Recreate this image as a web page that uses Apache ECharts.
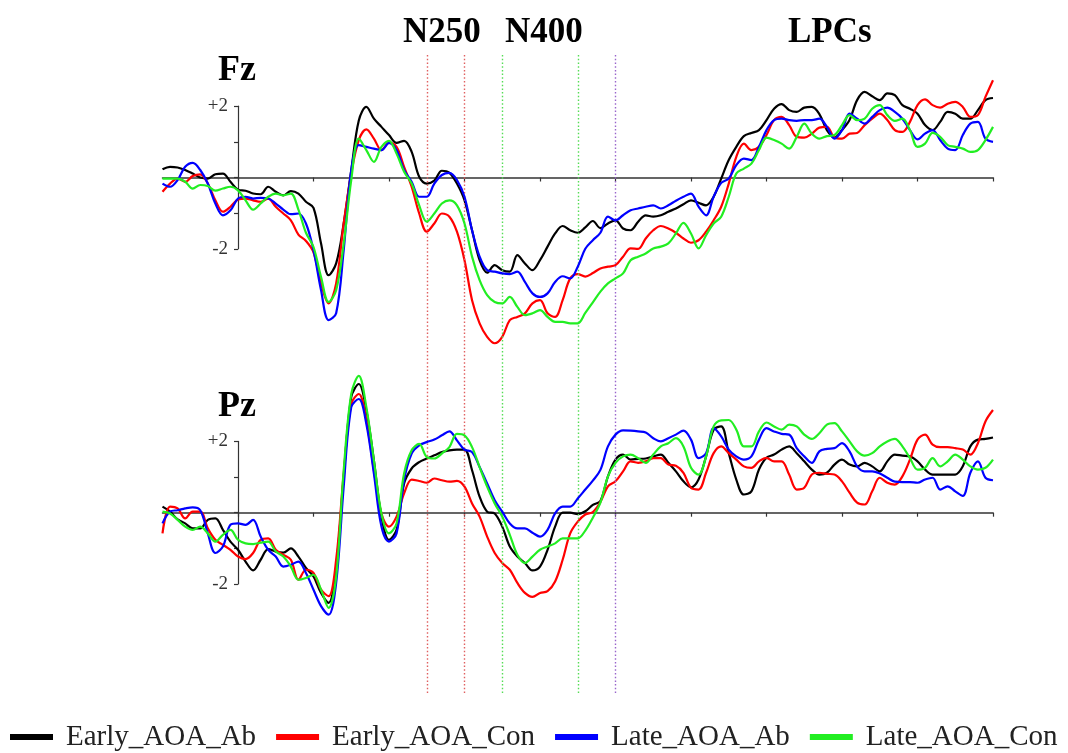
<!DOCTYPE html>
<html>
<head>
<meta charset="utf-8">
<script src="https://cdn.jsdelivr.net/npm/echarts@6/dist/echarts.min.js"></script>
<style>
html,body{margin:0;padding:0;background:#fff;}
#chart{width:1068px;height:753px;}
</style>
</head>
<body>
<div id="chart"></div>
<script>
// ---- data (µV), sampled every 10 ms from -100 ms to 1000 ms ----
const SERIES_NAMES = ['Early_AOA_Ab', 'Early_AOA_Con', 'Late_AOA_Ab', 'Late_AOA_Con'];
const COLORS = ['#000000', '#ff0000', '#0000ff', '#22ee22'];
const T_START = -100, T_END = 1000, T_STEP = 10;
const X_TICKS = [0, 100, 200, 300, 400, 500, 600, 700, 800, 900, 1000];
const WINDOWS = [250, 300, 350, 450, 500];
const WINDOW_COLORS = ['#e06060', '#e06060', '#55dd55', '#55dd55', '#9966cc'];
const HEADINGS = ['N250', 'N400', 'LPCs'];
const PANELS = ['Fz', 'Pz'];

const fzEarlyAb = [0.23,0.30,0.28,0.21,0.11,0.0,-0.03,0.09,0.11,-0.12,
 -0.34,-0.37,-0.45,-0.47,-0.26,-0.40,-0.50,-0.38,-0.45,-0.68,
 -0.85,-1.85,-2.74,-2.41,-1.29,0.2,1.6,1.98,1.65,1.42,
 1.19,0.97,1.03,0.72,0.02,-0.17,-0.09,0.19,0.13,-0.17,
 -0.64,-1.48,-2.32,-2.67,-2.46,-2.6,-2.64,-2.18,-2.41,-2.6,
 -2.32,-1.94,-1.57,-1.36,-1.48,-1.55,-1.4,-1.22,-1.42,-1.29,
 -1.2,-1.43,-1.48,-1.24,-1.06,-1.1,-1.06,-0.96,-0.87,-0.75,
 -0.64,-0.71,-0.78,-0.54,-0.03,0.49,0.86,1.16,1.25,1.33,
 1.61,1.93,2.06,1.89,1.84,1.96,1.98,1.78,1.33,1.12,
 1.33,1.61,2.17,2.4,2.28,2.17,2.36,2.31,2.03,1.93,
 1.79,1.47,1.33,1.56,1.84,1.79,1.65,1.65,1.89,2.17,
 2.23];
const fzEarlyCon = [-0.40,-0.17,-0.03,-0.12,0.04,0.09,-0.17,-0.64,-0.96,-0.82,
 -0.62,-0.59,-0.64,-0.68,-0.59,-0.82,-1.01,-1.2,-1.6,-1.78,
 -2.1,-2.97,-3.53,-2.97,-1.29,0.11,1.05,1.35,1.09,0.77,
 0.97,0.86,0.3,-0.26,-1.01,-1.52,-1.29,-1.01,-1.1,-1.52,
 -2.32,-3.44,-4.09,-4.47,-4.65,-4.47,-4.0,-3.91,-3.81,-3.53,
 -3.44,-3.81,-3.91,-3.44,-2.83,-2.71,-2.78,-2.68,-2.55,-2.5,
 -2.46,-2.22,-1.99,-2.0,-1.71,-1.48,-1.36,-1.43,-1.55,-1.71,
 -1.83,-1.76,-1.52,-1.2,-0.82,-0.17,0.58,0.95,0.77,0.86,
 1.19,1.61,1.70,1.47,1.14,1.12,1.23,1.40,1.42,1.12,
 1.09,1.23,1.25,1.47,1.65,1.79,1.61,1.33,1.28,1.56,
 2.03,2.19,2.03,1.96,2.07,2.12,1.98,1.70,1.75,2.26,
 2.73];
const fzLateAb = [-0.17,-0.26,-0.07,0.30,0.41,0.21,-0.17,-0.73,-1.06,-0.92,
 -0.59,-0.54,-0.59,-0.57,-0.59,-0.73,-0.90,-1.03,-1.01,-1.29,
 -2.04,-3.16,-4.0,-3.81,-2.04,0.21,0.91,0.86,0.81,0.77,
 0.97,0.77,0.21,-0.12,-0.54,-0.54,-0.17,0.07,0.13,-0.07,
 -0.54,-1.48,-2.22,-2.6,-2.64,-2.69,-2.71,-2.64,-2.93,-3.25,
 -3.35,-3.25,-2.93,-2.77,-2.83,-2.5,-2.0,-1.76,-1.55,-1.1,
 -1.2,-1.06,-0.92,-0.87,-0.82,-0.78,-0.87,-0.78,-0.65,-0.54,
 -0.45,-0.82,-1.06,-0.54,-0.15,-0.03,0.35,0.53,0.49,0.86,
 1.33,1.61,1.65,1.61,1.59,1.61,1.61,1.65,1.42,1.09,
 1.33,1.79,1.65,1.51,1.70,1.89,1.96,1.84,1.65,1.33,
 1.07,1.23,1.33,1.05,0.81,0.77,1.19,1.51,1.56,1.09,
 1.0];
const fzLateCon = [-0.03,-0.03,-0.03,-0.12,-0.31,-0.21,-0.24,-0.37,-0.31,-0.26,
 -0.36,-0.64,-0.90,-0.73,-0.54,-0.45,-0.50,-0.45,-0.9,-1.55,
 -1.95,-2.79,-3.49,-3.16,-1.85,-0.07,1.09,0.77,0.44,0.86,
 1.03,0.67,0.16,-0.17,-0.78,-1.24,-1.01,-0.73,-0.64,-0.78,
 -1.29,-2.22,-2.88,-3.30,-3.49,-3.53,-3.35,-3.63,-3.86,-3.81,
 -3.72,-3.91,-4.05,-4.05,-4.09,-4.09,-3.8,-3.5,-3.2,-2.97,
 -2.83,-2.69,-2.32,-2.22,-2.13,-1.99,-1.94,-1.85,-1.57,-1.27,
 -1.57,-1.99,-1.62,-1.29,-1.1,-0.54,0.11,0.25,0.39,0.77,
 1.12,1.05,0.95,0.81,1.14,1.51,1.23,1.09,1.16,1.19,
 1.47,1.75,1.61,1.65,1.93,2.03,1.75,1.59,1.65,1.33,
 0.86,0.95,1.25,1.14,0.91,0.86,0.81,0.72,0.77,1.05,
 1.42];

const pzEarlyAb = [0.17,0.03,-0.19,-0.30,-0.44,-0.44,-0.2,-0.16,-0.48,-0.81,
 -1.04,-1.37,-1.62,-1.32,-1.02,-1.09,-1.12,-1.0,-1.23,-1.55,
 -1.79,-2.25,-2.53,-1.51,1.0,3.24,3.61,2.87,1.47,-0.11,
 -0.76,-0.48,0.82,1.24,1.42,1.52,1.61,1.70,1.75,1.77,
 1.77,1.19,0.45,0.03,-0.02,-0.39,-0.95,-1.23,-1.41,-1.62,
 -1.51,-1.04,-0.39,0,0,-0.04,0.04,0.22,0.33,1.02,
 1.49,1.63,1.49,1.51,1.52,1.58,1.63,1.4,1.16,0.88,
 0.71,0.93,1.58,2.33,2.42,1.67,0.93,0.51,0.6,1.21,
 1.54,1.63,1.77,1.86,1.67,1.44,1.21,1.07,1.12,1.35,
 1.49,1.35,1.3,1.4,1.3,1.16,1.44,1.63,1.6,1.58,
 1.44,1.21,1.07,1.07,1.07,1.07,1.3,1.86,2.05,2.07,
 2.11];
const pzEarlyCon = [-0.58,0.17,0.12,-0.16,0.03,0.03,-0.44,-0.76,-0.9,-1.04,
 -1.23,-1.3,-1.13,-0.76,-0.72,-1.04,-1.18,-1.32,-1.88,-1.6,
 -1.69,-2.16,-2.34,-1.32,1.10,3.05,3.33,2.59,1.19,-0.02,
 -0.39,-0.11,0.54,0.93,0.89,0.84,0.96,0.91,0.87,0.89,
 0.73,0.26,-0.11,-0.67,-1.13,-1.41,-1.6,-1.97,-2.25,-2.36,
 -2.25,-2.2,-1.93,-1.32,-0.58,-0.25,-0.05,0.02,0.3,0.74,
 0.88,1.16,1.44,1.4,1.44,1.53,1.53,1.35,1.32,1.12,
 0.7,0.65,1.12,1.67,1.86,1.67,1.49,1.3,1.26,1.44,
 1.54,1.44,1.44,1.07,0.65,0.7,1.07,1.12,1.09,1.07,
 0.88,0.56,0.28,0.23,0.6,0.98,0.84,0.79,1.02,1.49,
 2.05,2.19,1.91,1.84,1.84,1.81,1.77,1.63,1.95,2.56,
 2.88];
const pzLateAb = [-0.3,0.03,0.07,0.12,0.15,0.07,-0.58,-1.13,-0.95,-0.34,
 -0.3,-0.34,-0.2,-0.67,-1.04,-1.23,-1.51,-1.46,-1.37,-1.69,
 -2.16,-2.62,-2.86,-1.97,0.73,2.96,3.19,2.49,1.10,-0.39,
 -0.81,-0.58,0.91,1.66,1.89,1.98,2.05,2.17,2.28,2.03,
 1.77,1.70,1.28,0.82,0.35,0.03,-0.3,-0.44,-0.44,-0.56,
 -0.67,-0.48,-0.02,0.17,0.17,0.4,0.65,0.9,1.2,1.86,
 2.19,2.31,2.3,2.28,2.25,2.09,2.0,2.09,2.19,2.3,
 2.05,1.53,1.67,2.37,2.14,1.77,1.58,1.49,1.58,2.05,
 2.37,2.28,2.21,2.19,1.81,1.58,1.4,1.72,1.79,1.81,
 1.95,1.72,1.3,1.16,1.16,1.1,0.98,0.87,0.86,0.86,
 0.84,0.93,0.98,0.65,0.74,0.6,0.47,1.12,1.44,0.98,
 0.91];
const pzLateCon = [0.03,-0.02,-0.2,-0.39,-0.48,-0.39,-0.58,-0.81,-0.62,-0.48,
 -0.76,-0.86,-0.88,-0.84,-0.81,-1.09,-1.23,-1.51,-1.88,-1.83,
 -1.74,-2.16,-2.67,-1.79,1.19,3.33,3.84,2.96,1.47,-0.02,
 -0.58,-0.3,1.10,1.75,1.93,1.56,1.52,1.66,1.84,2.21,
 2.17,1.84,1.28,0.73,0.26,-0.11,-0.62,-1.18,-1.41,-1.23,
 -1.04,-0.95,-0.86,-0.72,-0.72,-0.72,-0.5,-0.14,0.28,1.02,
 1.4,1.58,1.63,1.53,1.4,1.63,1.86,1.95,2.09,1.86,
 1.26,1.07,1.58,2.42,2.59,2.6,2.33,1.86,1.86,2.28,
 2.53,2.42,2.33,2.47,2.42,2.19,2.07,2.23,2.47,2.51,
 2.28,2.0,1.72,1.6,1.67,1.86,2.0,2.07,1.86,1.53,
 1.21,1.26,1.53,1.3,1.44,1.63,1.49,1.3,1.21,1.26,
 1.49];

const FZ = [fzEarlyAb, fzEarlyCon, fzLateAb, fzLateCon];
const PZ = [pzEarlyAb, pzEarlyCon, pzLateAb, pzLateCon];

// ---- layout ----
const PLOT_LEFT = 162.5, PLOT_RIGHT_EDGE = 993;
const PLOT_W = PLOT_RIGHT_EDGE - PLOT_LEFT;
const UNIT = 35.65;               // px per µV
const ZERO = [177.5, 512.7];      // y pixel of 0 µV for Fz / Pz
const YRANGE = [[-5, 3], [-3, 4.2]];
const X0 = PLOT_LEFT + (0 - T_START) / (T_END - T_START) * PLOT_W;
const SERIF = 'Liberation Serif, Times New Roman, serif';

const times = [];
for (let t = T_START; t <= T_END; t += T_STEP) times.push(t);
const toPairs = arr => arr.map((v, i) => [times[i], v]);

const grids = [], xAxes = [], yAxes = [], series = [];
PANELS.forEach((p, k) => {
  const [mn, mx] = YRANGE[k];
  grids.push({left: PLOT_LEFT, width: PLOT_W, top: ZERO[k] - mx * UNIT, height: (mx - mn) * UNIT, containLabel: false});
  const gi = grids.length - 1;
  xAxes.push({type: 'value', gridIndex: gi, min: T_START, max: T_END, interval: 100,
    axisLine: {show: true, onZero: true, lineStyle: {color: '#333', width: 1.5}},
    axisTick: {show: true, length: 4, inside: false, customValues: X_TICKS, lineStyle: {color: '#333', width: 1.2}},
    axisLabel: {show: false}, splitLine: {show: false}});
  yAxes.push({type: 'value', gridIndex: gi, min: mn, max: mx, show: false, splitLine: {show: false}});
  const data = k === 0 ? FZ : PZ;
  data.forEach((arr, s) => {
    series.push({name: SERIES_NAMES[s], type: 'line', xAxisIndex: gi, yAxisIndex: gi,
      data: toPairs(arr), showSymbol: false, symbol: 'none', smooth: 0.35,
      lineStyle: {color: COLORS[s], width: 2.2}, itemStyle: {color: COLORS[s]}, z: 3 + s, silent: true});
  });
});
// short y-axis segments (-2 .. +2)
PANELS.forEach((p, k) => {
  grids.push({left: X0, width: 10, top: ZERO[k] - 2 * UNIT, height: 4 * UNIT});
  const gi = grids.length - 1;
  xAxes.push({type: 'value', gridIndex: gi, min: 0, max: 1, show: false});
  yAxes.push({type: 'value', gridIndex: gi, min: -2, max: 2, interval: 1, position: 'left',
    axisLine: {show: true, lineStyle: {color: '#333', width: 1.2}},
    axisTick: {show: true, length: 4, lineStyle: {color: '#333', width: 1.2}},
    axisLabel: {show: true, margin: 10, color: '#333', fontFamily: SERIF, fontSize: 19,
      formatter: v => v === 2 ? '+2' : (v === -2 ? '-2' : '')},
    splitLine: {show: false}});
});
// grid for analysis-window dotted lines
grids.push({left: PLOT_LEFT, width: PLOT_W, top: 55, height: 638});
const wi = grids.length - 1;
xAxes.push({type: 'value', gridIndex: wi, min: T_START, max: T_END, show: false});
yAxes.push({type: 'value', gridIndex: wi, min: 0, max: 1, show: false});
series.push({type: 'line', xAxisIndex: wi, yAxisIndex: wi, data: [[T_START, 0]], showSymbol: false,
  lineStyle: {opacity: 0}, silent: true, z: 1,
  markLine: {silent: true, symbol: ['none', 'none'], label: {show: false},
    data: WINDOWS.map((w, i) => ({xAxis: w, lineStyle: {color: WINDOW_COLORS[i], type: [1.5, 2.2], width: 1.4}}))}});

const option = {
  animation: false,
  grid: grids, xAxis: xAxes, yAxis: yAxes, series: series,
  legend: {data: SERIES_NAMES, left: 10, top: 722, width: 1058, padding: 0, icon: 'rect',
    itemWidth: 43, itemHeight: 6, itemGap: 20,
    textStyle: {fontFamily: SERIF, fontSize: 29, color: '#222', lineHeight: 30, padding: [0, 0, 0, 8]}},
  graphic: [
    {type: 'text', left: 218, top: 53, style: {text: PANELS[0], font: 'bold 36px ' + SERIF, fill: '#000'}},
    {type: 'text', left: 218, top: 389, style: {text: PANELS[1], font: 'bold 36px ' + SERIF, fill: '#000'}},
    {type: 'text', left: 403, top: 15, style: {text: HEADINGS[0], font: 'bold 35px ' + SERIF, fill: '#000'}},
    {type: 'text', left: 505, top: 15, style: {text: HEADINGS[1], font: 'bold 35px ' + SERIF, fill: '#000'}},
    {type: 'text', left: 788, top: 15, style: {text: HEADINGS[2], font: 'bold 35px ' + SERIF, fill: '#000'}}
  ]
};
const chart = echarts.init(document.getElementById('chart'), null, {renderer: 'canvas'});
chart.setOption(option);
</script>
</body>
</html>
